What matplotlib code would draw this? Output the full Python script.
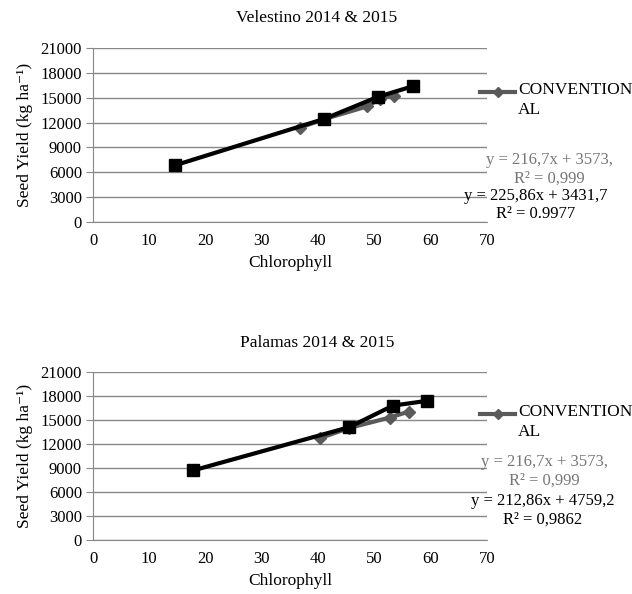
import matplotlib
matplotlib.use("Agg")
import matplotlib.pyplot as plt

# =====================================================================
# DATA
# =====================================================================
titles = ["Velestino 2014 & 2015", "Palamas 2014 & 2015"]

velestino_conv_x = [36.8, 41.0, 48.7, 51.0, 53.4]
velestino_conv_y = [11400, 12400, 13950, 14900, 15250]
velestino_org_x = [14.6, 41.1, 50.6, 56.9]
velestino_org_y = [6850, 12450, 15100, 16400]

palamas_conv_x = [40.4, 45.5, 52.7, 56.1]
palamas_conv_y = [12750, 14000, 15300, 16050]
palamas_org_x = [17.8, 45.5, 53.3, 59.4]
palamas_org_y = [8700, 14100, 16800, 17400]

legend_label = "CONVENTION\nAL"
conv_eqs = ["y = 216,7x + 3573,\nR² = 0,999", "y = 216,7x + 3573,\nR² = 0,999"]
org_eqs = ["y = 225,86x + 3431,7\nR² = 0.9977", "y = 212,86x + 4759,2\nR² = 0,9862"]

y_ticks = [0, 3000, 6000, 9000, 12000, 15000, 18000, 21000]
x_ticks = [0, 10, 20, 30, 40, 50, 60, 70]
# =====================================================================

plt.rcParams['font.family'] = ['Liberation Serif', 'DejaVu Serif']

W, H = 632, 594
fig = plt.figure(figsize=(W / 100, H / 100), dpi=100)

GRID = '#888888'
CONV = '#5a5a5a'

series = [
    (velestino_conv_x, velestino_conv_y, velestino_org_x, velestino_org_y),
    (palamas_conv_x, palamas_conv_y, palamas_org_x, palamas_org_y),
]
# axes boxes in pixels: left, top, right, bottom
boxes = [(93, 48, 487, 222), (93, 372, 487, 540)]
# pixel y of title, legend, gray eq, black eq
text_y = [(18, 92, 161, 197), (343, 414, 463, 502)]
# pixel x centre of gray eq, black eq
text_x = [(549, 536), (544, 543)]

for i, (cx, cy, ox, oy) in enumerate(series):
    l, t, r, b = boxes[i]
    ax = fig.add_axes([l / W, 1 - b / H, (r - l) / W, (b - t) / H])

    ax.plot(cx, cy, color=CONV, lw=3, marker='D', ms=6, zorder=3)
    ax.plot(ox, oy, color='black', lw=3, marker='s', ms=9, zorder=4)

    ax.set_xlim(0, 70)
    ax.set_ylim(0, 21000)
    ax.set_xticks(x_ticks)
    ax.set_yticks(y_ticks)
    ax.yaxis.grid(True, color=GRID, lw=1)
    ax.set_axisbelow(True)
    for s in ['top', 'right']:
        ax.spines[s].set_visible(False)
    ax.spines['left'].set_color(GRID)
    ax.spines['bottom'].set_color(GRID)
    ax.tick_params(axis='y', length=5, color=GRID, labelsize=12, pad=3)
    ax.tick_params(axis='x', length=0, labelsize=12, pad=8)
    ax.set_xlabel("Chlorophyll", fontsize=12.5, labelpad=4)
    ax.set_ylabel("Seed Yield (kg ha⁻¹)", fontsize=12.5, labelpad=5)

    ty, ly, gy, ky = text_y[i]
    gx, kx = text_x[i]
    fig.text(317 / W, 1 - ty / H, titles[i], fontsize=12.5,
             ha='center', va='center')

    # legend entry: line with one diamond in the middle
    fig.add_artist(plt.Line2D([480 / W, 515 / W], [1 - ly / H, 1 - ly / H],
                              color=CONV, lw=3))
    fig.add_artist(plt.Line2D([497.5 / W], [1 - ly / H], color=CONV,
                              marker='D', ms=5, lw=0))
    fig.text(518 / W, 1 - (ly - 10) / H, legend_label, fontsize=12.5,
             va='top', ha='left', linespacing=1.3)
    fig.text(gx / W, 1 - (gy - 9) / H, conv_eqs[i], fontsize=12,
             color='#777777', va='top', ha='center', linespacing=1.2)
    fig.text(kx / W, 1 - (ky - 9) / H, org_eqs[i], fontsize=12,
             color='black', va='top', ha='center', linespacing=1.2)

fig.savefig("out.png", dpi=100)
